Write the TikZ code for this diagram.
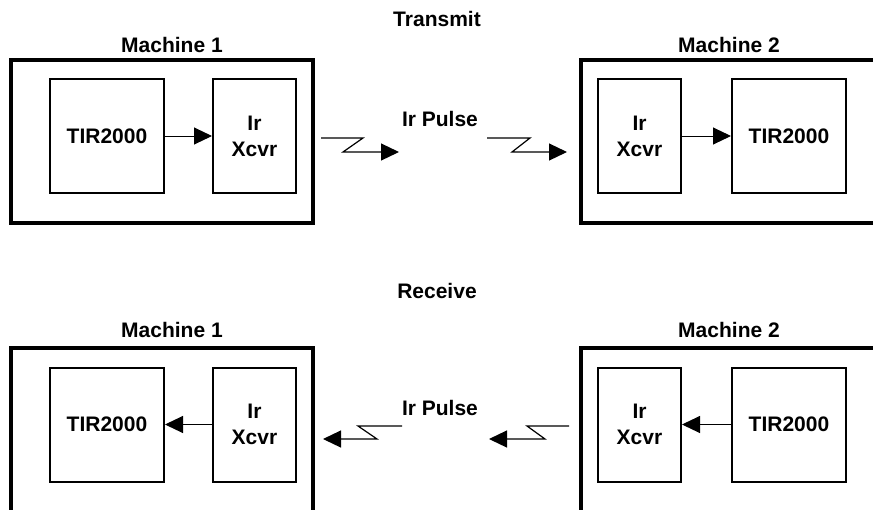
\documentclass[tikz,border=0pt]{standalone}
\usepackage{fontspec}
\setmainfont{Liberation Sans}
\usetikzlibrary{arrows.meta}
\begin{document}
\begin{tikzpicture}[x=1pt,y=-1pt,
  lbl/.style={font=\bfseries\fontsize{21}{26}\selectfont, inner sep=0pt, anchor=base},
  outerbox/.style={draw, line width=3.2pt},
  blk/.style={draw, line width=2pt, minimum height=114pt, align=center, inner sep=0pt,
              font=\bfseries\fontsize{21}{26}\selectfont},
  tirbox/.style={blk, minimum width=114pt},
  xcvrbox/.style={blk, minimum width=83pt},
  sig/.style={line width=1pt, -{Triangle[length=18pt,width=17pt]}},
  pulse/.style={line width=1.2pt, -{Triangle[length=18pt,width=17pt]}}
]
\clip (0,0) rectangle (873,509);
\useasboundingbox (0,0) rectangle (873,509);

% titles
\node[lbl] (ttx) at (437,26) {Transmit};
\node[lbl] (trx) at (437,298) {Receive};

% ---------- Transmit ----------
\draw[outerbox] (11,60) rectangle (313,223);
\draw[outerbox] (581,60) rectangle (890,223);
\node[lbl] (m1t) at (172,52) {Machine 1};
\node[lbl] (m2t) at (729,52) {Machine 2};
\node[tirbox]  (tir1t) at (107,136) {TIR2000};
\node[xcvrbox] (xc1t)  at (254.5,136) {Ir\\Xcvr};
\node[xcvrbox] (xc2t)  at (639.5,136) {Ir\\Xcvr};
\node[tirbox]  (tir2t) at (789,136) {TIR2000};
\draw[sig] (tir1t.east) -- (xc1t.west);
\draw[sig] (xc2t.east) -- (tir2t.west);
\node[lbl] (pt) at (440,126) {Ir Pulse};

\coordinate (pa1) at (321,138);
\coordinate (pa2) at (399,152);
\coordinate (pb1) at (487,138);
\coordinate (pb2) at (567,152);
\draw[pulse] (pa1) -- (363,138) -- (343,152) -- (pa2);
\draw[pulse] (pb1) -- (530,138) -- (512,152) -- (pb2);

% ---------- Receive ----------
\draw[outerbox] (11,348) rectangle (313,530);
\draw[outerbox] (581,348) rectangle (890,530);
\node[lbl] (m1r) at (172,337) {Machine 1};
\node[lbl] (m2r) at (729,337) {Machine 2};
\node[tirbox]  (tir1r) at (107,424.5) {TIR2000};
\node[xcvrbox] (xc1r)  at (254.5,424.5) {Ir\\Xcvr};
\node[xcvrbox] (xc2r)  at (639.5,424.5) {Ir\\Xcvr};
\node[tirbox]  (tir2r) at (789,424.5) {TIR2000};
\draw[sig] (xc1r.west) -- (tir1r.east);
\draw[sig] (tir2r.west) -- (xc2r.east);
\node[lbl] (pr) at (440,415) {Ir Pulse};

\coordinate (qa1) at (402,426);
\coordinate (qa2) at (323,439);
\coordinate (qb1) at (569,426);
\coordinate (qb2) at (489,439);
\draw[pulse] (qa1) -- (358,426) -- (377,439) -- (qa2);
\draw[pulse] (qb1) -- (527,426) -- (545,439) -- (qb2);
\end{tikzpicture}
\end{document}
